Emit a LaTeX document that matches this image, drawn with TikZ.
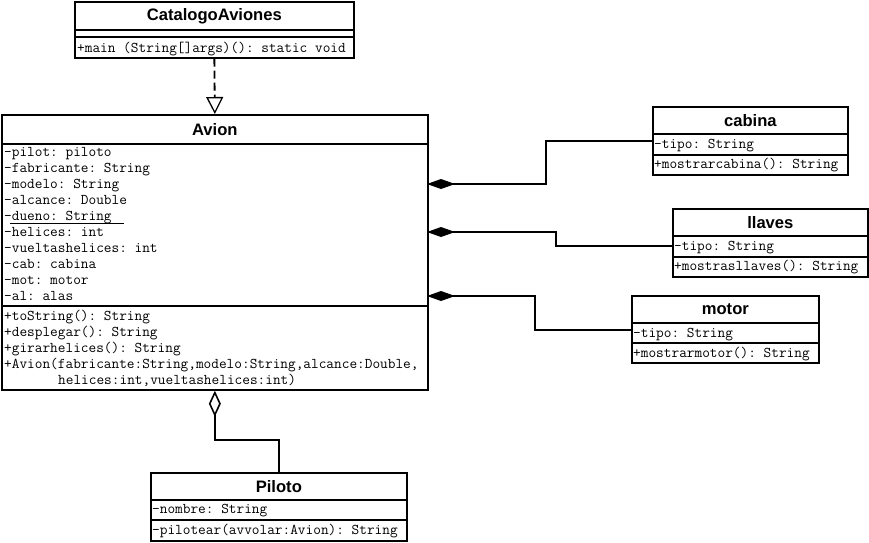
\documentclass[tikz,border=0pt]{standalone}
\usepackage{fontspec}
\setmainfont{Liberation Sans}
\frenchspacing
\begin{document}
\usetikzlibrary{arrows.meta}
\begin{tikzpicture}[x=1pt,y=-1pt,
 box/.style={draw, line width=1.7pt, inner sep=0pt, anchor=north west},
 ttl/.style={font=\bfseries\fontsize{16.6}{18}\selectfont},
 mono/.style={font=\ttfamily\fontsize{14.9}{16}\selectfont, anchor=base west, inner sep=0pt},
 conn/.style={line width=1.8pt},
]
\useasboundingbox (0,0) rectangle (869,542);

% CatalogoAviones
\node[box,ttl,minimum width=279pt,minimum height=28pt] (cat) at (74,1) {CatalogoAviones};
\node[box,minimum width=279pt,minimum height=7pt] (catA) at (74,29) {};
\node[box,minimum width=279pt,minimum height=21pt] (catM) at (74,36) {};
\node[mono] (catm1) at (77,52) {+main (String[]args)(): static void};

% Avion
\node[box,ttl,minimum width=426pt,minimum height=29pt] (avion) at (1,114) {Avion};
\node[box,minimum width=426pt,minimum height=162pt] (avionA) at (1,143) {};
\node[box,minimum width=426pt,minimum height=84pt] (avionM) at (1,305) {};
\node[mono] (a1) at (4,156) {-pilot: piloto};
\node[mono] (a2) at (4,172) {-fabricante: String};
\node[mono] (a3) at (4,188) {-modelo: String};
\node[mono] (a4) at (4,204) {-alcance: Double};
\node[mono] (a5) at (4,220) {-dueno: String};
\node[mono] (a6) at (4,236) {-helices: int};
\node[mono] (a7) at (4,252) {-vueltashelices: int};
\node[mono] (a8) at (4,268) {-cab: cabina};
\node[mono] (a9) at (4,284) {-mot: motor};
\node[mono] (a10) at (4,300) {-al: alas};
\draw[line width=1.2pt] (10,223.5) -- (124,223.5);
\node[mono] (m1) at (4,320) {+toString(): String};
\node[mono] (m2) at (4,336) {+desplegar(): String};
\node[mono] (m3) at (4,352) {+girarhelices(): String};
\node[mono] (m4) at (4,368) {+Avion(fabricante:String,modelo:String,alcance:Double,};
\node[mono] (m5) at (58,384) {helices:int,vueltashelices:int)};

% cabina
\node[box,ttl,minimum width=195pt,minimum height=27pt] (cabina) at (652,106) {cabina};
\node[box,minimum width=195pt,minimum height=21pt] (cabinaA) at (652,133) {};
\node[box,minimum width=195pt,minimum height=20pt] (cabinaM) at (652,154) {};
\node[mono] (c1) at (654,148) {-tipo: String};
\node[mono] (c2) at (654,168) {+mostrarcabina(): String};

% llaves
\node[box,ttl,minimum width=195pt,minimum height=27pt] (llaves) at (672,208) {llaves};
\node[box,minimum width=195pt,minimum height=21pt] (llavesA) at (672,235) {};
\node[box,minimum width=195pt,minimum height=20pt] (llavesM) at (672,256) {};
\node[mono] (l1) at (674,250) {-tipo: String};
\node[mono] (l2) at (674,270) {+mostrasllaves(): String};

% motor
\node[box,ttl,minimum width=187pt,minimum height=27pt] (motor) at (631,295) {motor};
\node[box,minimum width=187pt,minimum height=20pt] (motorA) at (631,322) {};
\node[box,minimum width=187pt,minimum height=20pt] (motorM) at (631,342) {};
\node[mono] (mo1) at (633,337) {-tipo: String};
\node[mono] (mo2) at (633,357) {+mostrarmotor(): String};

% Piloto
\node[box,ttl,minimum width=256pt,minimum height=27pt] (piloto) at (150,472) {Piloto};
\node[box,minimum width=256pt,minimum height=20pt] (pilotoA) at (150,499) {};
\node[box,minimum width=256pt,minimum height=21pt] (pilotoM) at (150,519) {};
\node[mono] (p1) at (152,513) {-nombre: String};
\node[mono] (p2) at (152,534) {-pilotear(avvolar:Avion): String};

% connectors
\draw[conn, dash pattern=on 8pt off 4pt, -{Triangle[open,line width=1.3pt,length=17pt,width=17pt]}] (catM.south) -- (avion.north);

\coordinate (d1) at (427,184);
\coordinate (d2) at (427,232);
\coordinate (d3) at (427,296);
\draw[conn,{Diamond[length=28pt,width=10pt]}-] (d1) -- (546,184) |- ([yshift=3.5pt]cabinaA.west);
\draw[conn,{Diamond[length=28pt,width=10pt]}-] (d2) -- (556,232) |- (llavesA.west);
\draw[conn,{Diamond[length=28pt,width=10pt]}-] (d3) -- (535,296) |- ([yshift=3pt]motorA.west);
\draw[conn,{Diamond[open,line width=1.6pt,length=26pt,width=12pt]}-] (avionM.south) -- ++(0,49) -| (piloto.north);
\end{tikzpicture}
\end{document}
